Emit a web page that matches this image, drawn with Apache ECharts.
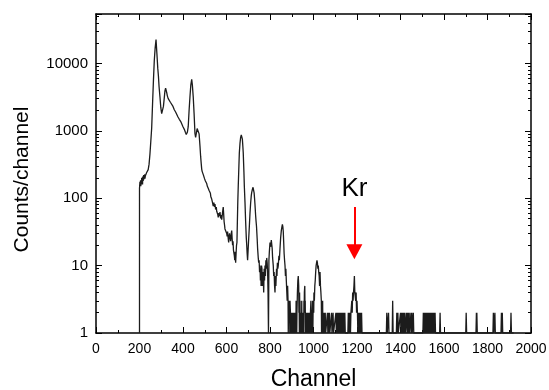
<!DOCTYPE html>
<html>
<head>
<meta charset="utf-8">
<script src="https://cdn.jsdelivr.net/npm/echarts@6/dist/echarts.min.js"></script>
<style>
html,body{margin:0;padding:0;background:#fff;}
#chart{width:549px;height:390px;}
</style>
</head>
<body>
<div id="chart"></div>
<script>
// ---- data (channel, counts) ----
var peakRegion = [
[200,1],[200,140],[201,145],[202,175],[203,150],[205,185],[206,150],[207,175],[209,160],[210,200],[211,170],[213,190],[214,160],[215,210],[217,180],[219,220],[220,190],[221,205],[224,225],[225,195],[227,215],[230,225],[233,240],[236,245],[240,265],[244,320],[248,450],[252,700],[256,1100],[260,2500],[264,5500],[268,11000],[272,17000],[276,22500],[280,14000],[284,8500],[287,6500],[290,4500],[294,3200],[298,2200],[302,1800],[306,1900],[310,2300],[314,3100],[317,3900],[320,4300],[322,4200],[325,3700],[328,3300],[332,3000],[337,2850],[342,2650],[348,2500],[354,2300],[360,2050],[366,1900],[371,1800],[377,1600],[383,1480],[389,1380],[394,1290],[400,1150],[406,1050],[411,950],[415,880],[417,860],[420,950],[424,1150],[428,2000],[432,3200],[436,4800],[440,5800],[443,4800],[447,3200],[451,1800],[455,915],[458,800],[462,950],[465,1080],[468,1100],[471,1050],[474,900],[478,600],[481,420],[484,320],[486,270],[488,250],[490,235],[492,245],[494,220],[497,213],[499,195],[501,205],[503,180],[505,190],[507,170],[509,165],[512,150],[514,155],[516,140],[518,145],[520,130],[522,135],[524,122]
];
var decayRegion = [
[526,118],[528,105],[530,110],[532,97],[535,88],[537,92],[539,76],[542,86],[545,74],[547,82],[550,68],[553,74],[555,64],[558,60],[560,57],[562,52],[565,60],[568,54],[570,62],[573,50],[576,56],[578,48],[581,58],[583,66],[585,74],[587,58],[589,45],[591,40],[593,35],[596,33],[598,37],[601,30],[603,27],[605,32],[608,25],[610,22],[612,27],[614,30],[616,27],[619,23],[622,30],[624,33],[626,25],[628,20],[630,23],[632,17],[634,18],[636,14],[638,12],[640,16],[642,11],[644,15],[646,20],[648,22],[650,45],[652,90],[654,150],[657,300],[659,470],[662,650],[665,800],[668,870],[670,870],[673,750],[675,600],[677,470],[680,250],[682,150],[685,87],[688,45],[691,26],[693,20],[695,15],[697,12],[699,16],[702,25],[705,38],[708,60],[711,85],[714,110],[716,122],[719,135],[722,145],[724,140],[727,120],[729,100],[731,80],[734,55],[736,45],[738,38],[741,25],[743,18],[746,13],[748,11],[750,12],[752,8],[754,10],[756,6],[758,9],[759,5],[761,10],[763,9],[765,5],[767,8],[769,7],[771,4],[773,9],[775,6],[777,10],[779,7],[781,12],[783,9],[785,13],[787,11],[789,8],[791,4],[793,1],[795,12],[797,16],[800,22],[803,19],[806,24],[808,25],[810,18],[812,13],[815,10],[817,7],[819,8],[821,5],[823,4],[825,7],[827,5],[830,9],[832,7],[834,11],[836,9],[838,10],[841,14],[843,12],[846,18],[849,26],[852,33],[855,38],[857,41],[859,38],[861,32],[863,22],[865,15],[867,12],[869,10],[871,7],[873,9],[875,6],[877,6],[879,3],[881,5],[883,3]
];
var lowRegion = [
[884,1],[886,3],[888,2],[890,3],[891,1],[892,3],[894,2],[895,1],[896,2],[897,1],[898,2],[900,2],[901,1],[902,2],[903,1],[904,2],[905,1],[906,2],[907,1],[908,2],[909,1],[910,2],[911,1],[912,2],[913,1],[914,2],[915,1],[916,2],[917,1],[918,2],[919,1],[920,3],[921,2],[922,3],[923,1],[924,2],[926,4],[928,6],[930,7],[932,5],[933,2],[934,3],[935,1],[936,4],[937,2],[938,3],[939,1],[940,2],[941,1],[942,2],[943,1],[944,2],[945,1],[946,3],[947,1],[948,2],[949,1],[950,2],[951,1],[952,2],[953,1],[954,2],[955,1],[956,3],[957,2],[958,4],[960,5],[961,2],[962,3],[963,1],[964,2],[965,1],[966,2],[967,1],[968,2],[969,1],[970,2],[971,1],[972,2],[973,1],[974,2],[975,1],[976,2],[977,1],[978,2],[979,1],[980,2],[981,1],[982,2],[983,1],[984,2],[985,1],[986,2],[988,3],[989,1],[990,2],[991,1],[992,2],[993,1],[994,2],[996,3],[997,1],[998,2],[1000,3],[1001,2],[1002,4],[1004,3],[1006,5],[1008,6],[1010,8],[1012,10],[1014,11],[1016,12],[1018,11],[1020,9],[1022,10],[1024,8],[1026,7],[1028,5],[1030,8],[1032,5],[1034,4],[1036,3],[1037,1],[1038,3],[1039,2],[1040,2],[1041,1],[1042,3],[1043,1],[1044,2],[1045,1],[1046,2],[1047,1],[1048,2],[1050,1],[1052,1],[1054,2],[1056,1]
];
var tailRegion = [
[1058,1],[1062,1],[1064,2],[1066,1],[1068,2],[1070,1],[1073,2],[1075,1],[1083,2],[1085,1],[1090,2],[1092,1],[1103,2],[1105,1],[1109,2],[1111,1],[1113,2],[1115,1],[1117,2],[1119,1],[1121,2],[1123,1],[1126,2],[1128,1],[1130,2],[1131,1],[1132,2],[1133,1],[1134,2],[1136,2],[1138,1],[1140,2],[1142,1],[1144,2],[1146,1],[1158,1],[1160,2],[1162,1],[1164,2],[1166,1],[1168,2],[1170,1],[1172,2],[1174,2],[1176,3],[1178,2],[1180,4],[1182,3],[1184,4],[1186,5],[1188,7],[1190,4],[1192,4],[1194,3],[1196,4],[1198,2],[1200,3],[1202,2],[1204,1],[1207,2],[1209,1],[1211,2],[1213,1],[1215,2],[1217,1],[1221,2],[1223,1],[1335,1],[1337,2],[1339,1],[1343,1],[1345,2],[1347,1],[1362,1],[1364,3],[1366,1],[1381,1],[1383,2],[1385,1],[1388,2],[1390,1],[1398,1],[1400,2],[1402,1],[1404,2],[1406,2],[1408,1],[1410,2],[1412,1],[1414,2],[1416,1],[1420,2],[1422,1],[1428,2],[1430,1],[1432,2],[1434,1],[1436,2],[1438,1],[1440,2],[1442,1],[1448,2],[1450,1],[1452,2],[1454,1],[1459,2],[1461,1],[1503,1],[1505,2],[1507,1],[1509,2],[1511,1],[1513,2],[1515,1],[1517,2],[1519,1],[1521,2],[1523,1],[1525,2],[1527,1],[1529,2],[1531,1],[1535,2],[1537,1],[1540,2],[1542,1],[1545,2],[1547,1],[1550,2],[1552,1],[1555,2],[1557,1],[1559,2],[1561,1],[1580,1],[1582,2],[1584,1],[1700,1],[1702,2],[1704,1],[1747,1],[1749,2],[1750,1],[1751,2],[1753,1],[1825,1],[1827,2],[1829,1],[1832,1],[1834,2],[1836,1],[1862,1],[1864,2],[1866,1],[1868,2],[1870,1],[1906,1],[1908,2],[1910,1],[1920,1]
];
var xTicks = {min: 0, max: 2000, step: 200};
var yRange = {min: 1, max: 54000};
var krLabel = {text: 'Kr', channel: 1188, textCount: 140, arrowFrom: 74, arrowTo: 16};

var spectrum = peakRegion.concat(decayRegion, lowRegion, tailRegion);

var FONT = '"Liberation Sans", Arial, sans-serif';
var chart = echarts.init(document.getElementById('chart'), null, {renderer: 'canvas'});

function xAx(pos, showLabel) {
  return {
    type: 'value', position: pos, min: xTicks.min, max: xTicks.max, interval: xTicks.step,
    name: showLabel ? 'Channel' : '', nameLocation: 'middle', nameGap: 35,
    nameTextStyle: {fontFamily: FONT, fontSize: 23, color: '#000'},
    axisLine: {show: true, onZero: false, lineStyle: {color: '#000', width: 1.5}},
    axisTick: {show: true, inside: true, length: 6, lineStyle: {color: '#000', width: 1}},
    minorTick: {show: true, splitNumber: 2, length: 3, lineStyle: {color: '#000', width: 1}},
    axisLabel: {show: showLabel, margin: 9, fontFamily: FONT, fontSize: 14, color: '#000',
      formatter: function (v) { return String(v); }},
    splitLine: {show: false}, minorSplitLine: {show: false}
  };
}
function yAx(pos, showLabel) {
  return {
    type: 'log', logBase: 10, position: pos, min: yRange.min, max: yRange.max,
    name: showLabel ? 'Counts/channel' : '', nameLocation: 'middle', nameGap: 63,
    nameTextStyle: {fontFamily: FONT, fontSize: 21, color: '#000', padding: [0, 12, 0, 0]},
    axisLine: {show: true, onZero: false, lineStyle: {color: '#000', width: 1.5}},
    axisTick: {show: true, inside: true, length: 6, lineStyle: {color: '#000', width: 1}},
    minorTick: {show: true, splitNumber: 9, length: 3, lineStyle: {color: '#000', width: 1}},
    axisLabel: {show: showLabel, margin: 8, fontFamily: FONT, fontSize: 15, color: '#000',
      showMaxLabel: false,
      formatter: function (v) {
        var l = Math.log10(v);
        return Math.abs(l - Math.round(l)) < 1e-6 ? String(Math.round(v)) : '';
      }},
    splitLine: {show: false}, minorSplitLine: {show: false}
  };
}

chart.setOption({
  animation: false,
  backgroundColor: '#fff',
  grid: {left: 96, right: 18, top: 14, bottom: 57, containLabel: false, outerBoundsMode: 'none'},
  xAxis: [xAx('bottom', true), xAx('top', false)],
  yAxis: [yAx('left', true), yAx('right', false)],
  series: [{
    type: 'line',
    data: spectrum,
    xAxisIndex: 0, yAxisIndex: 0,
    showSymbol: false, symbol: 'none',
    lineStyle: {color: '#1c1c1c', width: 1.3},
    clip: true,
    z: 2,
    markLine: {
      silent: true,
      symbol: ['none', 'triangle'],
      symbolSize: [16, 15],
      lineStyle: {color: '#ff0000', width: 2, type: 'solid'},
      label: {show: false},
      data: [[{coord: [krLabel.channel, krLabel.arrowFrom]}, {coord: [krLabel.channel, krLabel.arrowTo]}]]
    },
    markPoint: {
      silent: true,
      symbol: 'circle', symbolSize: 1,
      itemStyle: {color: 'rgba(0,0,0,0)'},
      label: {show: true, position: 'inside', formatter: krLabel.text, fontFamily: FONT, fontSize: 26, color: '#000'},
      data: [{coord: [krLabel.channel, krLabel.textCount]}]
    }
  }]
});
</script>
</body>
</html>
